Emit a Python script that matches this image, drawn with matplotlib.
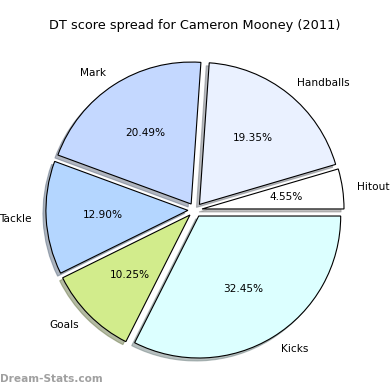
import matplotlib
matplotlib.use('Agg')
import matplotlib.pyplot as plt

labels = ['Hitout', 'Handballs', 'Mark', 'Tackle', 'Goals', 'Kicks']
values = [4.55, 19.35, 20.49, 12.90, 10.25, 32.45]
colors = ['#ffffff', '#eaf1ff', '#c4d8ff', '#b4d6ff', '#d2ec8c', '#dcffff']
explode = [0.05] * 6

fig = plt.figure(figsize=(3.9, 3.9), dpi=100)
ax = fig.add_axes([0, 0, 1, 1])
ax.pie(values, labels=labels, colors=colors, explode=explode,
       autopct='%1.2f%%', pctdistance=0.6, labeldistance=1.1,
       startangle=0, counterclock=True,
       shadow={'ox': -0.015, 'oy': -0.015, 'shade': 0.5},
       wedgeprops={'edgecolor': 'black', 'linewidth': 0.8},
       textprops={'fontsize': 7.6})
ax.set_aspect('equal')
ax.set_xlim(-1.373, 1.373)
ax.set_ylim(-1.268, 1.479)
ax.axis('off')

fig.text(0.5, 0.935, 'DT score spread for Cameron Mooney (2011)',
         ha='center', va='center', fontsize=9.3)
fig.text(0.0, 0.027, 'Dream-Stats.com', ha='left', va='center',
         fontsize=7.6, color='#a0a0a0', fontweight='bold')

fig.savefig('out.png', dpi=100)
